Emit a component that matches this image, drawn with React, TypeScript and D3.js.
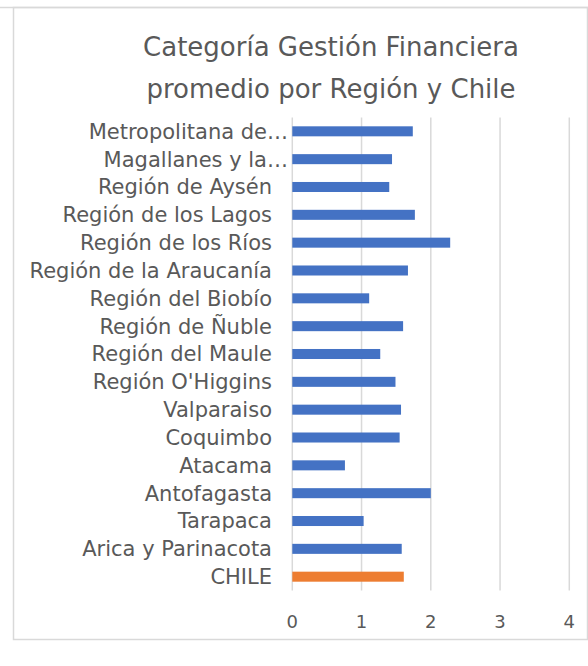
import React from 'react';
import * as d3 from 'd3';

const WIDTH = 588;
const HEIGHT = 666;

// categories from top to bottom, as shown
const regions = [
  'Metropolitana de…',
  'Magallanes y la…',
  'Región de Aysén',
  'Región de los Lagos',
  'Región de los Ríos',
  'Región de la Araucanía',
  'Región del Biobío',
  'Región de Ñuble',
  'Región del Maule',
  "Región O'Higgins",
  'Valparaiso',
  'Coquimbo',
  'Atacama',
  'Antofagasta',
  'Tarapaca',
  'Arica y Parinacota',
  'CHILE',
];
const scores = [1.74, 1.44, 1.40, 1.77, 2.28, 1.67, 1.11, 1.60, 1.27, 1.49, 1.57, 1.55, 0.76, 2.00, 1.03, 1.58, 1.61];
const xTicks = [0, 1, 2, 3, 4];
const titleLines = ['Categoría Gestión Financiera', 'promedio por Región y Chile'];

const FONT = 'Verdana, "DejaVu Sans", sans-serif';
const TEXT = '#595959';

export default function App() {
  const x = d3.scaleLinear().domain([0, 4]).range([292.3, 569.3]);
  const y = d3.scaleBand<string>().domain(regions).range([117.4, 590.6]).paddingInner(0.64).paddingOuter(0.32);

  return (
    <svg width={WIDTH} height={HEIGHT} style={{ position: 'absolute', left: 0, top: 0, background: '#fff' }}>
      <rect x={13.5} y={7.5} width={574} height={632} fill="#fff" stroke="#d9d9d9" strokeWidth={1.5} />
      <line x1={0} x2={WIDTH} y1={7.5} y2={7.5} stroke="#d9d9d9" strokeWidth={1.5} />
      {titleLines.map((t, i) => (
        <text key={i} x={331} y={56 + i * 42} textAnchor="middle" fontFamily={FONT} fontSize={26} fill={TEXT}>
          {t}
        </text>
      ))}
      {xTicks.map((t) => (
        <g key={t}>
          <line x1={x(t)} x2={x(t)} y1={117.4} y2={590.6} stroke="#d9d9d9" strokeWidth={1.5} />
          <text x={x(t)} y={628} textAnchor="middle" fontFamily={FONT} fontSize={18} fill={TEXT}>
            {t}
          </text>
        </g>
      ))}
      {regions.map((r, i) => (
        <g key={r}>
          <rect
            x={x(0)}
            y={y(r)}
            width={x(scores[i]) - x(0)}
            height={y.bandwidth()}
            fill={r === 'CHILE' ? '#ED7D31' : '#4472C4'}
          />
          <text
            x={r.endsWith('…') ? 288 : 272}
            y={(y(r) as number) + y.bandwidth() / 2}
            dy="0.35em"
            textAnchor="end"
            fontFamily={FONT}
            fontSize={21}
            fill={TEXT}
          >
            {r}
          </text>
        </g>
      ))}
    </svg>
  );
}
